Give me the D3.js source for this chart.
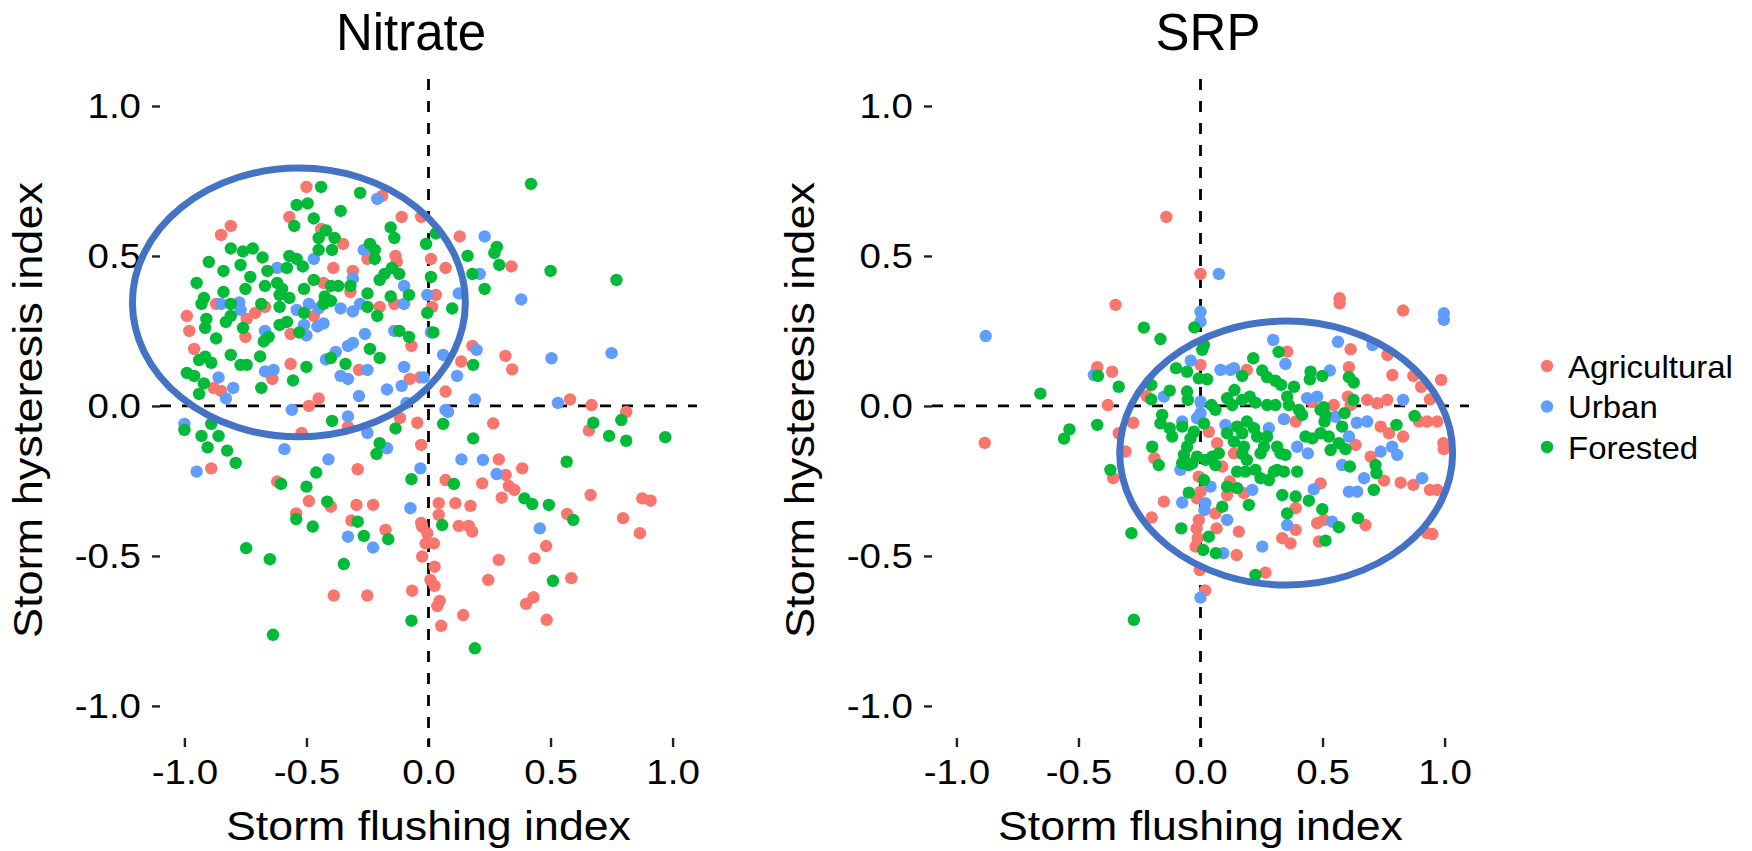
<!DOCTYPE html>
<html>
<head>
<meta charset="utf-8">
<script src="https://cdn.jsdelivr.net/npm/d3@7"></script>
<style>
  body { margin: 0; background: #fff; }
  svg { display: block; font-family: "Liberation Sans", Arial, sans-serif; }
</style>
</head>
<body>
<svg width="1752" height="851"></svg>
<script>
var categories = ["Agricultural", "Urban", "Forested"];
var colors = ["#F8766D", "#619CFF", "#00BA38"];
var panelTitles = ["Nitrate", "SRP"];
var tickValues = [-1, -0.5, 0, 0.5, 1];
var xLabel = "Storm flushing index",
    yLabel = "Storm hysteresis index";

// [flushing index, hysteresis index]
var nitrateAgricultural = [
  [-0.50,0.73],[-0.19,0.70],[-0.57,0.63],[-0.81,0.60],[-0.85,0.57],[-0.11,0.63],[-0.03,0.63],[-0.35,0.54],
  [-0.44,0.59],[-0.135,0.50],[-0.13,0.48],[-0.25,0.49],[-0.39,0.46],[-0.31,0.45],[0.01,0.49],[0.07,0.46],
  [0.03,0.37],[0.015,0.33],[-0.43,0.41],[-0.32,0.38],[-0.14,0.34],[-0.20,0.33],[-0.87,0.34],[-0.99,0.30],
  [-0.98,0.25],[-0.96,0.19],[-0.71,0.31],[-0.67,0.33],[-0.75,0.23],[-0.745,0.29],[-0.565,0.24],[-0.47,0.30],
  [-0.07,0.20],[-0.565,0.14],[-0.64,0.09],[-0.88,0.06],[-0.85,0.05],[-0.285,0.12],[-0.077,0.09],[-0.035,0.095],
  [-0.49,0.0],[-0.45,0.025],[-0.046,-0.056],[0.07,0.048],[-0.33,-0.07],[-0.52,-0.09],
  [0.128,0.565],[0.34,0.465],[0.18,0.20],[0.134,0.148],[0.315,0.167],[0.343,0.122],[0.58,0.022],[0.668,0.003],
  [0.81,-0.02],[0.265,-0.058],[0.657,-0.082],[0.288,-0.178],[0.384,-0.208],[0.316,-0.23],[0.329,-0.267],
  [0.352,-0.28],[0.07,-0.247],[0.22,-0.258],[0.30,-0.306],[0.664,-0.297],[0.876,-0.308],[0.91,-0.316],
  [0.042,-0.324],[0.042,-0.363],[0.11,-0.324],[0.172,-0.333],[0.568,-0.36],[0.797,-0.374],[0.866,-0.424],
  [0.124,-0.40],[0.165,-0.40],[0.179,-0.419],[-0.026,-0.402],[-0.005,-0.424],[0.022,-0.458],[-0.012,-0.458],
  [-0.026,-0.502],[0.482,-0.467],[0.025,-0.536],[0.288,-0.513],[0.434,-0.508],[0.008,-0.58],[0.025,-0.60],
  [0.245,-0.58],[0.585,-0.574],[0.046,-0.65],[0.036,-0.667],[0.142,-0.697],[0.40,-0.66],[0.43,-0.638],
  [0.484,-0.713],[0.052,-0.733],
  [-0.89,-0.208],[-0.29,-0.211],[-0.62,-0.252],[-0.49,-0.317],[-0.40,-0.336],[-0.295,-0.33],[-0.227,-0.33],
  [-0.542,-0.358],[-0.316,-0.382],[-0.176,-0.413],[-0.03,-0.39],[-0.388,-0.632],[-0.251,-0.632],
  [-0.067,-0.616],[-0.03,-0.13],[-0.117,-0.04]
];
var nitrateUrban = [
  [-0.21,0.69],[-0.265,0.52],[-0.47,0.49],[-0.62,0.46],[-0.31,0.425],[-0.10,0.40],[-0.005,0.37],[-0.85,0.34],
  [-0.775,0.345],[-0.77,0.32],[-0.54,0.32],[-0.49,0.34],[-0.45,0.325],[-0.36,0.325],[-0.31,0.315],[-0.28,0.34],
  [-0.10,0.34],[-0.51,0.27],[-0.455,0.265],[-0.43,0.275],[-0.50,0.235],[-0.67,0.25],[-0.26,0.24],[-0.14,0.25],
  [0.01,0.245],[-0.42,0.155],[-0.38,0.18],[-0.33,0.20],[-0.31,0.21],[-0.36,0.10],[-0.33,0.09],[-0.25,0.12],
  [-0.10,0.13],[-0.02,0.095],[-0.67,0.115],[-0.635,0.12],[-0.86,0.095],[-0.80,0.06],[-0.83,0.025],[-0.285,0.033],
  [-0.17,0.055],[-0.11,0.067],[-0.09,0.01],[-0.56,-0.013],[-0.33,-0.035],[0.06,0.17],[0.07,-0.013],[-1.0,-0.06],
  [-0.25,-0.09],
  [0.23,0.565],[0.21,0.44],[0.38,0.355],[0.124,0.375],[0.197,0.187],[0.504,0.159],[0.75,0.176],[0.117,0.10],
  [0.19,0.022],[0.53,0.01],
  [0.08,-0.02],[0.135,-0.178],[0.223,-0.18],[0.279,-0.227],[0.456,-0.408],
  [-0.95,-0.219],[-0.59,-0.144],[-0.41,-0.178],[-0.17,-0.141],[-0.033,-0.208],[-0.074,-0.341],[-0.33,-0.436],
  [-0.227,-0.472]
];
var nitrateForested = [
  [-0.44,0.73],[-0.28,0.71],[-0.54,0.67],[-0.495,0.675],[-0.36,0.65],[-0.55,0.60],[-0.47,0.625],[-0.42,0.585],
  [-0.45,0.56],[-0.385,0.56],[-0.395,0.52],[-0.45,0.52],[-0.155,0.595],[-0.14,0.56],[-0.24,0.54],[-0.22,0.52],
  [-0.22,0.49],[-0.01,0.54],[0.03,0.575],[-0.81,0.525],[-0.76,0.515],[-0.72,0.525],[-0.68,0.495],[-0.90,0.48],
  [-0.77,0.47],[-0.84,0.45],[-0.66,0.45],[-0.57,0.50],[-0.54,0.49],[-0.58,0.46],[-0.515,0.465],[-0.73,0.43],
  [-0.95,0.41],[-0.84,0.38],[-0.75,0.39],[-0.67,0.40],[-0.62,0.41],[-0.60,0.39],[-0.61,0.37],[-0.57,0.36],
  [-0.51,0.39],[-0.47,0.42],[-0.40,0.40],[-0.37,0.40],[-0.32,0.40],[-0.425,0.365],[-0.43,0.34],[-0.40,0.35],
  [-0.20,0.42],[-0.18,0.44],[-0.15,0.46],[-0.12,0.44],[-0.25,0.375],[-0.155,0.365],[-0.08,0.37],[0.01,0.43],
  [-0.92,0.36],[-0.93,0.34],[-0.81,0.34],[-0.685,0.34],[-0.61,0.33],[-0.51,0.31],[-0.25,0.33],[-0.21,0.30],
  [-0.005,0.31],[-0.91,0.29],[-0.915,0.26],[-0.83,0.28],[-0.81,0.30],[-0.76,0.26],[-0.61,0.27],[-0.58,0.28],
  [-0.655,0.23],[-0.675,0.215],[-0.53,0.245],[-0.87,0.225],[-0.12,0.25],[-0.08,0.23],[0.02,0.245],[-0.24,0.19],
  [-0.20,0.16],[-0.40,0.16],[-0.34,0.14],[-0.69,0.165],[-0.81,0.17],[-0.77,0.137],[-0.745,0.137],[-0.94,0.153],
  [-0.915,0.164],[-0.89,0.144],[-0.99,0.11],[-0.96,0.10],[-0.92,0.075],[-0.94,0.04],[-0.50,0.13],[-0.555,0.085],
  [-0.685,0.06],[-0.395,-0.05],[-0.135,-0.075],[0.06,-0.06],[-0.89,-0.06],[-0.93,-0.10],[-0.86,-0.10],[-1.0,-0.08],
  [0.42,0.74],[0.28,0.53],[0.27,0.51],[0.16,0.50],[0.29,0.47],[0.18,0.44],[0.23,0.39],[0.50,0.45],[0.77,0.42],
  [0.097,0.325],[0.183,0.137],
  [0.675,-0.056],[0.79,-0.047],[0.74,-0.10],[0.81,-0.116],[0.97,-0.104],[0.183,-0.108],[0.566,-0.186],
  [0.104,-0.26],[0.393,-0.308],[0.425,-0.327],[0.493,-0.33],[0.593,-0.38],[0.056,-0.397],[0.51,-0.583],[0.19,-0.808],
  [-0.905,-0.138],[-0.825,-0.149],[-0.79,-0.19],[-0.20,-0.124],[-0.213,-0.16],[-0.07,-0.244],[-0.604,-0.26],
  [-0.46,-0.222],[-0.50,-0.269],[-0.415,-0.319],[-0.542,-0.377],[-0.474,-0.402],[-0.29,-0.386],[-0.265,-0.433],
  [-0.165,-0.444],[-0.747,-0.474],[-0.65,-0.511],[-0.347,-0.527],[-0.07,-0.716],[-0.637,-0.763]
];

var srpAgricultural = [
  [-0.14,0.63],[0.0,0.44],[-0.884,-0.123],[0.019,-0.615],
  [-0.348,0.337],[0.0,0.137],[0.19,0.12],[-0.423,0.129],[-0.362,0.114],[-0.221,0.033],[-0.38,0.003],
  [-0.276,-0.056],[-0.335,-0.091],[-0.307,-0.152],[0.034,-0.086],[0.068,-0.124],[0.137,-0.158],[0.089,-0.202],
  [-0.007,-0.236],[0.12,-0.252],[0.178,-0.291],[0.109,-0.297],[0.0,-0.286],[-0.014,-0.308],[-0.15,-0.319],
  [0.061,-0.358],[-0.20,-0.372],[-0.007,-0.38],[-0.016,-0.408],[-0.011,-0.441],[-0.02,-0.469],[0.066,-0.408],
  [0.157,-0.419],[0.148,-0.497],[-0.003,-0.547],[0.266,-0.556],[-0.358,-0.241],[-0.189,-0.174],
  [0.57,0.359],[0.57,0.342],[0.83,0.318],[0.615,0.189],[0.766,0.17],[0.355,0.181],[0.608,0.129],[0.786,0.103],
  [0.872,0.10],[0.986,0.087],[0.904,0.064],[0.458,0.014],[0.546,0.003],[0.604,0.031],[0.615,0.003],[0.683,0.02],
  [0.724,0.009],[0.765,0.02],[0.94,0.022],[0.895,-0.052],[0.929,-0.052],[0.97,-0.052],[0.738,-0.069],
  [0.772,-0.091],[0.83,-0.102],[0.995,-0.124],[0.997,-0.144],[0.39,-0.052],[0.635,-0.13],[0.697,-0.169],
  [0.752,-0.249],[0.82,-0.256],[0.872,-0.263],[0.94,-0.28],[0.97,-0.28],[0.492,-0.258],[0.39,-0.341],
  [0.39,-0.413],[0.478,-0.391],[0.505,-0.38],[0.676,-0.397],[0.335,-0.441],[0.369,-0.458],[0.485,-0.452],
  [0.929,-0.424],[0.95,-0.427]
];
var srpUrban = [
  [0.075,0.44],[-0.88,0.233],[0.0,-0.639],
  [0.0,0.314],[0.0,0.281],[0.298,0.22],[-0.04,0.151],[0.082,0.12],[0.123,0.12],[0.137,0.126],[-0.437,0.103],
  [-0.15,0.031],[0.0,0.014],[-0.075,-0.052],[0.0,-0.024],[-0.014,-0.041],[0.102,-0.063],[0.28,-0.074],
  [-0.082,-0.213],[0.041,-0.269],[0.212,-0.28],[-0.075,-0.322],[0.02,-0.324],[0.016,-0.347],[0.109,-0.38],
  [0.253,-0.469],[0.093,-0.491],
  [0.997,0.309],[0.997,0.287],[0.563,0.214],[0.705,0.203],[0.348,0.14],[0.53,0.118],[0.437,0.026],[0.478,0.031],
  [0.83,0.02],[0.342,-0.044],[0.553,-0.036],[0.64,-0.056],[0.683,-0.052],[0.608,-0.102],[0.44,-0.158],
  [0.396,-0.136],[0.58,-0.197],[0.738,-0.152],[0.785,-0.136],[0.806,-0.163],[0.67,-0.241],[0.908,-0.241],
  [0.608,-0.286],[0.642,-0.286],[0.464,-0.278],[0.355,-0.397],[0.539,-0.386]
];
var srpForested = [
  [-0.656,0.041],[-0.537,-0.078],[-0.559,-0.109],[-0.273,-0.713],
  [-0.025,0.262],[-0.232,0.261],[-0.164,0.223],[0.014,0.203],[0.007,0.187],[0.32,0.18],[0.216,0.159],
  [-0.10,0.126],[-0.055,0.114],[-0.007,0.092],[0.027,0.089],[0.171,0.10],[0.253,0.118],[0.273,0.096],
  [0.307,0.084],[-0.42,0.10],[-0.335,0.064],[-0.202,0.07],[-0.126,0.051],[-0.202,0.022],[-0.055,0.048],
  [-0.052,0.02],[0.045,0.003],[0.061,-0.013],[0.109,0.026],[0.139,0.053],[0.13,0.003],[0.171,0.02],[0.202,0.031],
  [0.225,0.011],[0.273,0.003],[0.307,0.003],[-0.423,-0.063],[-0.157,-0.03],[-0.164,-0.058],[-0.126,-0.074],
  [-0.116,-0.102],[-0.075,-0.069],[-0.027,-0.086],[-0.041,-0.108],[0.014,-0.058],[-0.055,-0.136],[-0.068,-0.163],
  [0.109,-0.091],[0.15,-0.069],[0.171,-0.091],[0.137,-0.119],[0.19,-0.052],[0.219,-0.074],[0.232,-0.102],
  [0.273,-0.102],[0.26,-0.136],[0.246,-0.158],[0.178,-0.136],[0.171,-0.16],[0.19,-0.18],[0.075,-0.158],
  [0.02,-0.18],[0.048,-0.169],[-0.014,-0.169],[-0.034,-0.191],[-0.075,-0.191],[-0.048,-0.197],[0.061,-0.197],
  [0.15,-0.219],[0.184,-0.219],[0.225,-0.213],[0.246,-0.241],[0.28,-0.247],[0.314,-0.213],[0.014,-0.247],
  [0.109,-0.269],[0.15,-0.274],[0.198,-0.33],[-0.048,-0.289],[0.089,-0.336],[-0.079,-0.408],[-0.283,-0.424],
  [0.034,-0.436],[0.011,-0.48],[0.063,-0.491],[0.225,-0.563],[-0.369,-0.213],[-0.171,-0.197],[-0.198,-0.136],
  [0.33,0.07],[0.451,0.114],[0.448,0.089],[0.499,0.10],[0.608,0.096],[0.628,0.078],[0.383,0.064],[0.355,0.031],
  [0.362,0.003],[0.505,-0.004],[0.512,-0.03],[0.626,0.02],[0.877,-0.033],[0.803,-0.063],[0.403,-0.013],
  [0.416,-0.03],[0.492,-0.013],[0.508,-0.052],[0.59,-0.024],[0.58,-0.069],[0.43,-0.102],[0.458,-0.108],
  [0.492,-0.091],[0.526,-0.102],[0.567,-0.124],[0.594,-0.144],[0.533,-0.147],[0.328,-0.158],[0.348,-0.163],
  [0.314,-0.136],[0.612,-0.202],[0.717,-0.197],[0.721,-0.224],[0.71,-0.28],[0.396,-0.219],[0.342,-0.219],
  [0.301,-0.219],[0.335,-0.297],[0.39,-0.302],[0.444,-0.316],[0.499,-0.344],[0.355,-0.358],[0.567,-0.404],
  [0.645,-0.374],[0.512,-0.449]
];

// hand-drawn highlight rings, in data units: centre x, centre y, radius x, radius y
var nitrateRing = [-0.531, 0.345, 0.682, 0.448];
var srpRing = [0.351, -0.157, 0.682, 0.44];

var svg = d3.select("svg"),
    panelLeft = [160, 932],
    panelWidth = 537,
    panelTop = 79,
    panelBottom = 747,
    titleX = [411, 1208],
    yTitleX = [42, 814];

var y = d3.scaleLinear().domain([-1.137, 1.09]).range([panelBottom, panelTop]);
var fmt = function(d) { return d.toFixed(1); };

// R's text runs a little wider than Liberation Sans at the same height
function widen(sel, k) {
  sel.each(function() {
    var len = this.getComputedTextLength();
    d3.select(this).attr("textLength", len * k).attr("lengthAdjust", "spacingAndGlyphs");
  });
}

var panels = [
  {series: [nitrateAgricultural, nitrateUrban, nitrateForested], ring: nitrateRing},
  {series: [srpAgricultural, srpUrban, srpForested], ring: srpRing}
];

panels.forEach(function(p, i) {
  var x = d3.scaleLinear().domain([-1.1, 1.1]).range([panelLeft[i], panelLeft[i] + panelWidth]);
  var g = svg.append("g");

  g.append("g")
      .attr("transform", "translate(0,738)")
      .call(d3.axisBottom(x).tickValues(tickValues).tickFormat(fmt).tickSize(9).tickPadding(12));
  g.append("g")
      .attr("transform", "translate(" + panelLeft[i] + ",0)")
      .call(d3.axisLeft(y).tickValues(tickValues).tickFormat(fmt).tickSize(8).tickPadding(11));

  g.selectAll(".domain").remove();
  g.selectAll(".tick line").attr("stroke", "#222").attr("stroke-width", 2.4);
  g.selectAll(".tick text")
      .attr("fill", "#000")
      .style("font-size", "35px")
      .style("font-family", "'Liberation Sans', Arial, sans-serif")
      .call(widen, 1.1);

  // zero reference lines
  g.append("line")
      .attr("x1", x(0)).attr("x2", x(0))
      .attr("y1", y.range()[1]).attr("y2", y.range()[0])
      .attr("stroke", "#000").attr("stroke-width", 2.8).attr("stroke-dasharray", "11,11");
  g.append("line")
      .attr("x1", x.range()[0]).attr("x2", x.range()[1])
      .attr("y1", y(0)).attr("y2", y(0))
      .attr("stroke", "#000").attr("stroke-width", 2.8).attr("stroke-dasharray", "11,11");

  p.series.forEach(function(data, k) {
    g.selectAll(null)
      .data(data)
      .enter().append("circle")
        .attr("cx", function(d) { return x(d[0]); })
        .attr("cy", function(d) { return y(d[1]); })
        .attr("r", 6.2)
        .attr("fill", colors[k]);
  });

  var r = p.ring;
  g.append("ellipse")
      .attr("cx", x(r[0]))
      .attr("cy", y(r[1]))
      .attr("rx", x(r[0] + r[2]) - x(r[0]))
      .attr("ry", y(r[1]) - y(r[1] + r[3]))
      .attr("fill", "none")
      .attr("stroke", "#4472C4")
      .attr("stroke-width", 7);

  svg.append("text")
      .attr("x", titleX[i]).attr("y", 50)
      .attr("text-anchor", "middle")
      .style("font-size", "51px")
      .text(panelTitles[i]);

  svg.append("text")
      .attr("x", x(0)).attr("y", 840)
      .attr("text-anchor", "middle")
      .attr("fill", "#000")
      .style("font-size", "41px")
      .text(xLabel)
      .call(widen, 1.09);

  svg.append("text")
      .attr("transform", "translate(" + yTitleX[i] + ",410) rotate(-90)")
      .attr("text-anchor", "middle")
      .attr("fill", "#000")
      .style("font-size", "41px")
      .text(yLabel)
      .call(widen, 1.1);
});

var legend = svg.append("g").attr("transform", "translate(1547,366)");
var item = legend.selectAll("g")
  .data(categories)
  .enter().append("g")
    .attr("transform", function(d, i) { return "translate(0," + i * 40.5 + ")"; });
item.append("circle")
    .attr("r", 6.2)
    .attr("fill", function(d, i) { return colors[i]; });
item.append("text")
    .attr("x", 21)
    .attr("dy", "0.36em")
    .attr("fill", "#000")
    .style("font-size", "32px")
    .text(function(d) { return d; })
    .call(widen, 1.03);
</script>
</body>
</html>
